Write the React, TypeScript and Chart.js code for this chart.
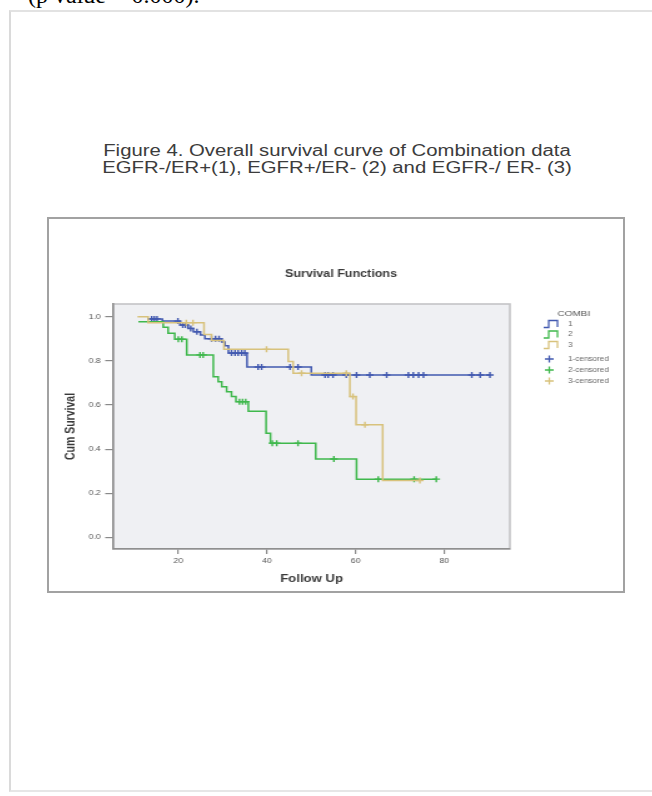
import React, { useEffect, useRef } from "react";
import { Chart, registerables } from "chart.js";

Chart.register(...registerables);

// ---------- data ----------
const xTicks = [20, 40, 60, 80];
const yTicks = [0, 0.2, 0.4, 0.6, 0.8, 1.0];
const legendTitle = "COMBI";
const groupLabels = ["1", "2", "3"];
const censorLabels = ["1-censored", "2-censored", "3-censored"];

// Group 1 (EGFR-/ER+): event times and survival after each step
const times1 = [13.0, 16.4, 20.4, 22.2, 23.4, 25.0, 26.0, 29.8, 30.5, 31.3, 35.5, 50.0, 90.3];
const surv1 = [0.99, 0.98, 0.962, 0.947, 0.932, 0.917, 0.9, 0.885, 0.868, 0.835, 0.772, 0.736, 0.736];
const cens1 = [14.0, 14.6, 15.2, 19.9, 21.0, 21.6, 22.8, 24.2, 27.5, 28.4, 29.2, 32.0, 32.8, 33.5, 34.3, 35.0,
  38.0, 38.8, 45.2, 47.0, 53.1, 53.8, 54.9, 57.9, 60.2, 63.2, 67.0, 71.9, 73.0, 74.2, 75.3, 86.2, 88.1, 90.3];

// Group 2 (EGFR+/ER-)
const times2 = [11.0, 16.6, 17.7, 19.2, 21.9, 27.9, 29.0, 29.8, 30.9, 32.0, 33.0, 35.8, 39.8, 40.8, 51.0, 60.2, 78.2];
const surv2 = [0.977, 0.952, 0.925, 0.898, 0.827, 0.728, 0.705, 0.683, 0.66, 0.638, 0.615, 0.572, 0.472, 0.427, 0.355, 0.264, 0.264];
const cens2 = [20.0, 20.8, 24.9, 25.6, 33.8, 34.5, 35.2, 41.2, 42.2, 47.0, 55.1, 65.1, 73.2, 78.2];

// Group 3 (EGFR-/ER-)
const times3 = [10.8, 13.2, 25.8, 27.5, 30.3, 44.8, 45.9, 58.7, 60.1, 66.1, 74.5];
const surv3 = [1.0, 0.973, 0.919, 0.892, 0.852, 0.797, 0.744, 0.638, 0.51, 0.258, 0.258];
const cens3 = [21.8, 23.3, 39.9, 47.8, 57.9, 59.4, 62.1, 74.5];

const colors = ["#4259b0", "#3fb84c", "#d8c27c"];

// ---------- layout (logical canvas units; canvas is stretched horizontally) ----------
const BOX_W = 578;
const BOX_H = 376;
const CANVAS_W = 462; // logical width, CSS-stretched to BOX_W

const FONT = '"Liberation Sans", Arial, Helvetica, sans-serif';

function survAt(times: number[], surv: number[], t: number): number {
  let v = surv[0];
  for (let i = 0; i < times.length; i++) {
    if (times[i] <= t + 1e-9) v = surv[i];
  }
  return v;
}

function stepIcon(ctx: CanvasRenderingContext2D, x: number, y: number, color: string) {
  ctx.save();
  ctx.strokeStyle = color;
  ctx.lineWidth = 1.3;
  ctx.beginPath();
  ctx.moveTo(x, y + 3.5);
  ctx.lineTo(x + 4, y + 3.5);
  ctx.lineTo(x + 4, y - 3.5);
  ctx.lineTo(x + 11, y - 3.5);
  ctx.lineTo(x + 11, y + 3);
  ctx.stroke();
  ctx.restore();
}

function crossIcon(ctx: CanvasRenderingContext2D, x: number, y: number, color: string) {
  ctx.save();
  ctx.strokeStyle = color;
  ctx.lineWidth = 1.3;
  ctx.beginPath();
  ctx.moveTo(x - 3.5, y);
  ctx.lineTo(x + 3.5, y);
  ctx.moveTo(x, y - 3.5);
  ctx.lineTo(x, y + 3.5);
  ctx.stroke();
  ctx.restore();
}

const decorPlugin = {
  id: "spssDecor",
  beforeDraw(chart: any) {
    const { ctx, chartArea: a } = chart;
    ctx.save();
    ctx.fillStyle = "#eff0f3";
    ctx.fillRect(a.left, a.top, a.right - a.left, a.bottom - a.top);
    ctx.strokeStyle = "#c4c4c6";
    ctx.lineWidth = 1.6;
    ctx.strokeRect(a.left, a.top, a.right - a.left, a.bottom - a.top);
    ctx.restore();
  },
  afterDraw(chart: any) {
    const { ctx } = chart;
    ctx.save();
    // chart title
    ctx.fillStyle = "#3a3a3a";
    ctx.font = `bold 10px ${FONT}`;
    ctx.textAlign = "center";
    ctx.textBaseline = "middle";
    ctx.fillText("Survival Functions", chart.width / 2 + 4, 57);

    // legend
    const lx = 397;
    const tx = 416.5;
    ctx.font = `8px ${FONT}`;
    ctx.fillStyle = "#555";
    ctx.textAlign = "center";
    ctx.fillText(legendTitle, 421, 97);
    ctx.font = `6.5px ${FONT}`;
    ctx.textAlign = "left";
    const lineYs = [107, 117.5, 128];
    const cenYs = [142, 153, 164];
    groupLabels.forEach((lab, i) => {
      stepIcon(ctx, lx, lineYs[i], colors[i]);
      ctx.fillStyle = "#666";
      ctx.fillText(lab, tx, lineYs[i]);
    });
    censorLabels.forEach((lab, i) => {
      crossIcon(ctx, lx + 4.5, cenYs[i], colors[i]);
      ctx.fillStyle = "#666";
      ctx.fillText(lab, tx, cenYs[i]);
    });
    ctx.restore();
  },
};

function ChartBox() {
  const ref = useRef<HTMLCanvasElement | null>(null);

  useEffect(() => {
    if (!ref.current) return;
    const groups = [
      { t: times1, s: surv1, c: cens1 },
      { t: times2, s: surv2, c: cens2 },
      { t: times3, s: surv3, c: cens3 },
    ];
    const lineSets = groups.map((g, i) => ({
      type: "line" as const,
      label: groupLabels[i],
      data: g.t.map((t, j) => ({ x: t, y: g.s[j] })),
      stepped: "before" as const,
      borderColor: colors[i],
      borderWidth: 1.5,
      pointRadius: 0,
      fill: false,
      order: 3 - i,
    }));
    const censorSets = groups.map((g, i) => ({
      type: "scatter" as const,
      label: censorLabels[i],
      data: g.c.map((t) => ({ x: t, y: survAt(g.t, g.s, t) })),
      pointStyle: "cross" as const,
      pointRadius: 3,
      borderColor: colors[i],
      backgroundColor: colors[i],
      pointBorderWidth: 1.4,
      showLine: false,
      order: 3 - i,
    }));

    const chart = new Chart(ref.current, {
      type: "line",
      data: { datasets: [...lineSets, ...censorSets] as any },
      options: {
        animation: false,
        responsive: false,
        maintainAspectRatio: false,
        devicePixelRatio: 1,
        layout: { padding: { left: 0, right: CANVAS_W - 370, top: 87, bottom: 0 } },
        plugins: {
          legend: { display: false },
          tooltip: { enabled: false },
          title: { display: false },
        },
        scales: {
          x: {
            type: "linear",
            min: 5.34,
            max: 94.8,
            afterBuildTicks: (axis: any) => {
              axis.ticks = xTicks.map((v) => ({ value: v }));
            },
            afterFit: (axis: any) => {
              axis.height = 44;
            },
            grid: { drawOnChartArea: false, drawTicks: true, tickLength: 5, tickColor: "#8a8a8a", lineWidth: 1.2 },
            border: { display: true, color: "#8f8f8f", width: 1.6 },
            ticks: {
              autoSkip: false,
              maxRotation: 0,
              padding: 3,
              color: "#555",
              font: { family: FONT, size: 7 },
              callback: (v: any) => String(v),
            },
            title: {
              display: true,
              text: "Follow Up",
              color: "#3a3a3a",
              font: { family: FONT, size: 10.5, weight: "bold" },
              padding: { top: 0, bottom: 8 },
            },
          },
          y: {
            type: "linear",
            min: -0.0525,
            max: 1.0575,
            afterBuildTicks: (axis: any) => {
              axis.ticks = yTicks.map((v) => ({ value: v }));
            },
            afterFit: (axis: any) => {
              axis.width = 53;
            },
            grid: { drawOnChartArea: false, drawTicks: true, tickLength: 6.5, tickColor: "#8a8a8a", lineWidth: 1.2 },
            border: { display: true, color: "#8f8f8f", width: 1.6 },
            ticks: {
              autoSkip: false,
              padding: 3.5,
              color: "#555",
              font: { family: FONT, size: 7 },
              callback: (v: any) => Number(v).toFixed(1),
            },
            title: {
              display: true,
              text: "Cum Survival",
              color: "#3a3a3a",
              font: { family: FONT, size: 10.5, weight: "bold" },
              padding: { top: 13, bottom: 0 },
            },
          },
        },
      },
      plugins: [decorPlugin],
    } as any);
    return () => chart.destroy();
  }, []);

  return (
    <canvas
      ref={ref}
      width={CANVAS_W}
      height={BOX_H}
      style={{ position: "absolute", left: 0, top: 0, width: BOX_W + "px", height: BOX_H + "px" }}
    />
  );
}

export default function App() {
  const titleStyle: React.CSSProperties = {
    position: "absolute",
    left: 336.5,
    whiteSpace: "nowrap",
    fontFamily: FONT,
    fontSize: "16px",
    lineHeight: "16px",
    color: "#3c3c3c",
    transform: "translateX(-50%) scaleX(1.27)",
    transformOrigin: "center",
  };
  return (
    <div
      style={{
        position: "absolute",
        left: 0,
        top: 0,
        width: 652,
        height: 796,
        overflow: "hidden",
        background: "#fff",
      }}
    >
      <div
        style={{
          position: "absolute",
          left: 28,
          top: -17,
          fontFamily: '"Liberation Serif", "Times New Roman", serif',
          fontSize: "24px",
          lineHeight: "24px",
          whiteSpace: "nowrap",
          color: "#000",
        }}
      >
        (p value = 0.000).
      </div>
      <div
        style={{
          position: "absolute",
          left: 9,
          top: 10,
          width: 700,
          height: 778,
          borderLeft: "2px solid #dadada",
          borderTop: "2px solid #e2e2e2",
          borderBottom: "2px solid #e6e6e6",
        }}
      />
      <div style={{ ...titleStyle, top: 143 }}>Figure 4. Overall survival curve of Combination data</div>
      <div style={{ ...titleStyle, top: 159.8 }}>EGFR-/ER+(1), EGFR+/ER- (2) and EGFR-/ ER- (3)</div>
      <div
        style={{
          position: "absolute",
          left: 47,
          top: 217,
          width: BOX_W,
          height: BOX_H,
        }}
      >
        <ChartBox />
        <div
          style={{
            position: "absolute",
            left: 0,
            top: 0,
            width: BOX_W,
            height: BOX_H,
            boxSizing: "border-box",
            border: "2px solid #a2a2a2",
            pointerEvents: "none",
          }}
        />
      </div>
    </div>
  );
}
